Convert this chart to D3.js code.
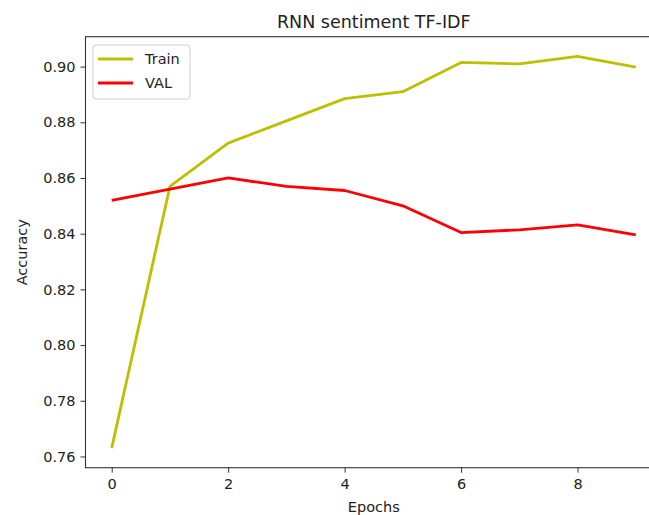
<!DOCTYPE html>
<html lang="en">
<head>
  <meta charset="UTF-8">
  <title>RNN sentiment TF-IDF</title>
  <style>
    body { margin: 0; background: #fff; font-family: "DejaVu Sans", sans-serif; }
    svg { display: block; }
    .tick text { font-size: 14.5px; fill: #222; font-family: "DejaVu Sans", sans-serif; }
    .tick line { stroke: #333; }
    .domain { display: none; }
  </style>
</head>
<body>
  <svg width="649" height="515"></svg>
  <script src="https://d3js.org/d3.v7.min.js"></script>
  <script>
    const width = 649, height = 515;

    const epochs = [0, 1, 2, 3, 4, 5, 6, 7, 8, 9];
    const trainAcc = [0.763, 0.857, 0.8725, 0.8805, 0.8885, 0.891, 0.9015, 0.901, 0.9037, 0.8998];
    const valAcc = [0.852, 0.856, 0.860, 0.857, 0.8555, 0.850, 0.8404, 0.8414, 0.8432, 0.8396];
    const xTicks = [0, 2, 4, 6, 8];
    const yTicks = [0.76, 0.78, 0.80, 0.82, 0.84, 0.86, 0.88, 0.90];

    const series = [
      { name: "Train", values: trainAcc, color: "#bfbf00" },
      { name: "VAL", values: valAcc, color: "#ff0000" }
    ];

    // axes box (right edge falls outside the picture, as in the original)
    const axLeft = 85.5, axRight = 662, axTop = 36.7, axBottom = 467.7;

    const all = trainAcc.concat(valAcc);
    const lo = d3.min(all), hi = d3.max(all), pad = (hi - lo) * 0.05;

    const x = d3.scaleLinear().domain([-0.45, 9.45]).range([axLeft, axRight]);
    const y = d3.scaleLinear().domain([lo - pad, hi + pad]).range([axBottom, axTop]);

    const svg = d3.select("svg");

    svg.append("g")
      .attr("transform", `translate(0,${axBottom})`)
      .call(d3.axisBottom(x).tickValues(xTicks).tickFormat(d3.format("d")).tickSize(5).tickPadding(6));

    svg.append("g")
      .attr("transform", `translate(${axLeft},0)`)
      .call(d3.axisLeft(y).tickValues(yTicks).tickFormat(d3.format(".2f")).tickSize(5).tickPadding(5));

    const line = d3.line()
      .x((d, i) => x(epochs[i]))
      .y(d => y(d));

    svg.append("g")
      .selectAll("path")
      .data(series)
      .join("path")
      .attr("fill", "none")
      .attr("stroke", d => d.color)
      .attr("stroke-width", 2.8)
      .attr("stroke-linejoin", "round")
      .attr("d", d => line(d.values));

    // spines
    svg.append("rect")
      .attr("x", axLeft).attr("y", axTop)
      .attr("width", axRight - axLeft).attr("height", axBottom - axTop)
      .attr("fill", "none")
      .attr("stroke", "#333")
      .attr("stroke-width", 1.1);

    // legend
    const legend = svg.append("g").attr("transform", "translate(93,45)");
    legend.append("rect")
      .attr("width", 97).attr("height", 54)
      .attr("rx", 3)
      .attr("fill", "#fff").attr("fill-opacity", 0.8)
      .attr("stroke", "#d0d0d0");
    const item = legend.selectAll("g.item")
      .data(series)
      .join("g")
      .attr("class", "item")
      .attr("transform", (d, i) => `translate(0,${14 + i * 24})`);
    item.append("line")
      .attr("x1", 5).attr("x2", 40)
      .attr("stroke", d => d.color)
      .attr("stroke-width", 2.8);
    item.append("text")
      .attr("x", 52).attr("y", 5.2)
      .attr("font-size", "14.5px")
      .attr("fill", "#222")
      .text(d => d.name);

    // title and axis labels
    svg.append("text")
      .attr("x", (axLeft + axRight) / 2).attr("y", 27.5)
      .attr("text-anchor", "middle")
      .attr("font-size", "17.5px")
      .attr("fill", "#222")
      .text("RNN sentiment TF-IDF");

    svg.append("text")
      .attr("x", (axLeft + axRight) / 2).attr("y", 512)
      .attr("text-anchor", "middle")
      .attr("font-size", "14.5px")
      .attr("fill", "#222")
      .text("Epochs");

    svg.append("text")
      .attr("transform", `translate(27,${(axTop + axBottom) / 2}) rotate(-90)`)
      .attr("text-anchor", "middle")
      .attr("font-size", "14.5px")
      .attr("fill", "#222")
      .text("Accuracy");
  </script>
</body>
</html>
